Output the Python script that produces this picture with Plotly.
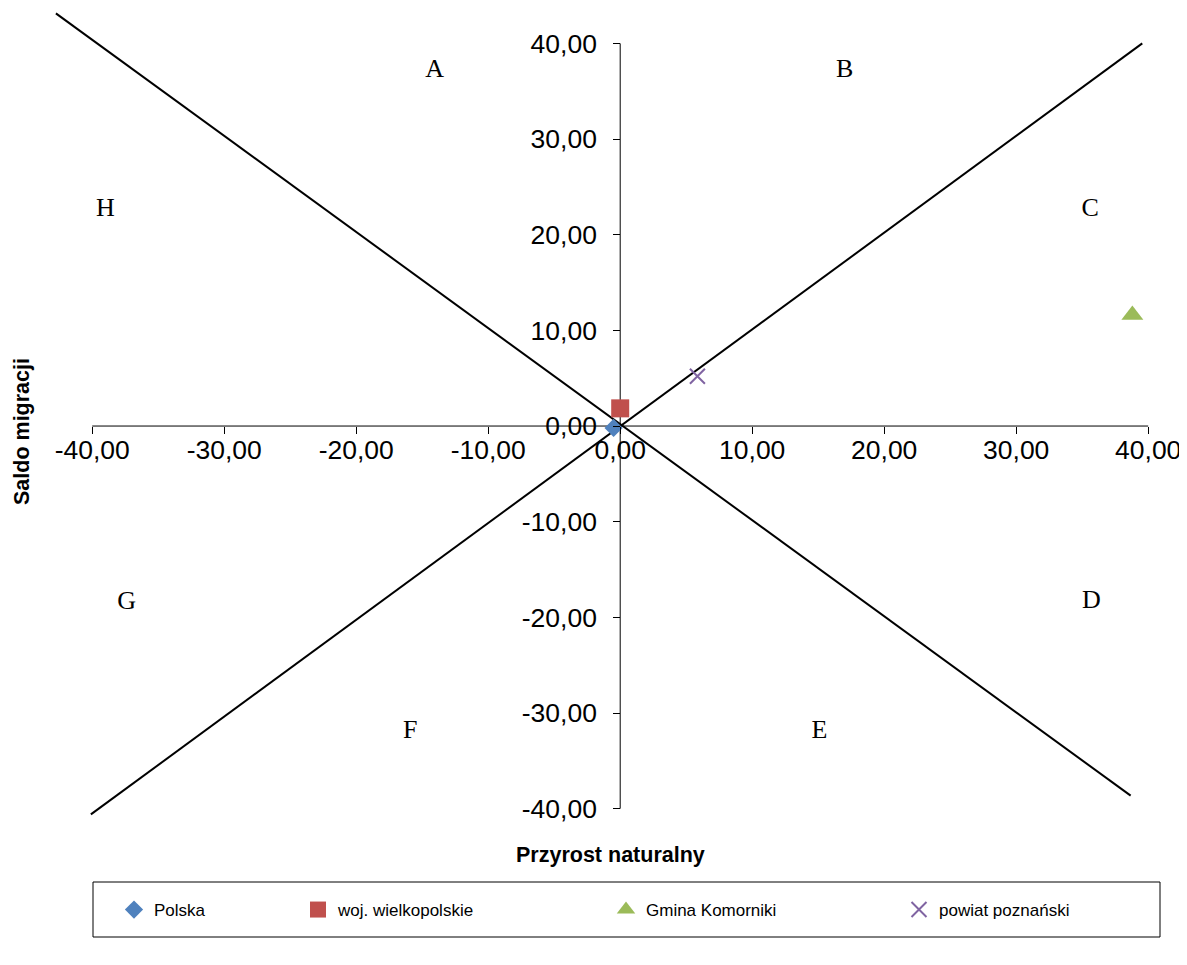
import plotly.graph_objects as go

# ---- data ----
series_names = ["Polska", "woj. wielkopolskie", "Gmina Komorniki", "powiat poznański"]
series_x = [-0.5, 0.0, 38.8, 5.85]
series_y = [-0.2, 1.85, 11.6, 5.2]

line1_x = [-42.75, 38.67]
line1_y = [43.14, -38.64]
line2_x = [-40.1, 39.55]
line2_y = [-40.6, 40.0]

sector_labels = ["A", "B", "C", "D", "E", "F", "G", "H"]
sector_x = [-14.06, 17.0, 35.6, 35.7, 15.1, -15.9, -37.4, -39.0]
sector_y = [37.2, 37.2, 22.6, -18.3, -31.9, -31.9, -18.4, 22.6]

tick_vals = [-40, -30, -20, -10, 0, 10, 20, 30, 40]
tick_text = ["-40,00", "-30,00", "-20,00", "-10,00", "0,00", "10,00", "20,00", "30,00", "40,00"]

# ---- styles ----
colors = ["#4F81BD", "#C0504D", "#9BBB59", "#8064A2"]
symbols = ["diamond", "square", "triangle-up", "x-thin-open"]
sizes = [14, 18, 19, 15]
legend_text_px = [150, 334, 642, 935]   # page x where each legend label starts

XR = [-43.5, 41.5]
YR = [-41.5, 43.6]
W, H = 1179, 949
ML, MR, MT, MB = 38, 19, 1, 134
OFF = 8  # browser body margin

pw = W - ML - MR
ph = H - MT - MB
def px2paper_x(px):
    return (px - OFF - ML) / pw
def px2paper_y(py):
    return (H - MB - (py - OFF)) / ph

fig = go.Figure()

for lx, ly in [(line1_x, line1_y), (line2_x, line2_y)]:
    fig.add_trace(go.Scatter(x=lx, y=ly, mode="lines", line=dict(color="black", width=2),
                             showlegend=False, hoverinfo="skip"))

legend_names = ["legend", "legend2", "legend3", "legend4"]
for i, name in enumerate(series_names):
    mk = dict(color=colors[i], size=sizes[i], symbol=symbols[i])
    if symbols[i].startswith("x-thin"):
        mk["line"] = dict(color=colors[i], width=2)
    else:
        mk["line"] = dict(width=0)
    fig.add_trace(go.Scatter(x=[series_x[i]], y=[series_y[i]], mode="markers", name=name,
                             marker=mk, cliponaxis=False, legend=legend_names[i]))

fig.add_trace(go.Scatter(x=sector_x, y=sector_y, mode="text", text=sector_labels,
                         textfont=dict(family="Liberation Serif", size=26, color="black"),
                         showlegend=False, hoverinfo="skip"))

# axis lines spanning -40..40
fig.add_shape(type="line", x0=-40, x1=40, y0=0, y1=0, xref="x", yref="y",
              line=dict(color="black", width=1), layer="below")
fig.add_shape(type="line", x0=0, x1=0, y0=-40, y1=40, xref="x", yref="y",
              line=dict(color="black", width=1), layer="below")

xpos = (0 - YR[0]) / (YR[1] - YR[0])
ypos = (0 - XR[0]) / (XR[1] - XR[0])

tickfont = dict(family="Liberation Sans, Arial", size=26.5, color="black")
fig.update_xaxes(range=XR, anchor="free", position=xpos, showgrid=False, zeroline=False,
                 showline=False, tickmode="array", tickvals=tick_vals, ticktext=tick_text,
                 ticks="outside", ticklen=7, tickwidth=1, tickcolor="black",
                 tickfont=tickfont, ticklabelstandoff=-7, fixedrange=True)
fig.update_yaxes(range=YR, anchor="free", position=ypos, showgrid=False, zeroline=False,
                 showline=False, tickmode="array", tickvals=tick_vals, ticktext=tick_text,
                 ticks="outside", ticklen=7, tickwidth=1, tickcolor="black",
                 tickfont=tickfont, ticklabelstandoff=11, fixedrange=True)

titlefont = dict(family="Liberation Sans, Arial", size=21.5, color="black")
fig.add_annotation(text="<b>Przyrost naturalny</b>", x=px2paper_x(610), y=px2paper_y(855),
                   xref="paper", yref="paper", showarrow=False,
                   xanchor="center", yanchor="middle", font=titlefont)
fig.add_annotation(text="<b>Saldo migracji</b>", x=px2paper_x(22), y=px2paper_y(432),
                   xref="paper", yref="paper", showarrow=False, textangle=-90,
                   xanchor="center", yanchor="middle", font=titlefont)

# legend box
fig.add_shape(type="rect", xref="paper", yref="paper",
              x0=px2paper_x(93), x1=px2paper_x(1160), y0=px2paper_y(937), y1=px2paper_y(882),
              line=dict(color="black", width=1), fillcolor="rgba(0,0,0,0)")

legfont = dict(family="Liberation Sans, Arial", size=17, color="black")
layout_legends = {}
for i, ln in enumerate(legend_names):
    layout_legends[ln] = dict(orientation="h", x=px2paper_x(legend_text_px[i] - 36), xanchor="left",
                              y=px2paper_y(910), yanchor="middle", font=legfont,
                              bgcolor="rgba(0,0,0,0)", borderwidth=0, itemsizing="trace")

fig.update_layout(
    width=W, height=H,
    margin=dict(l=ML, r=MR, t=MT, b=MB),
    paper_bgcolor="white", plot_bgcolor="white",
    showlegend=True,
    **layout_legends,
)

fig.write_html("out.html")
